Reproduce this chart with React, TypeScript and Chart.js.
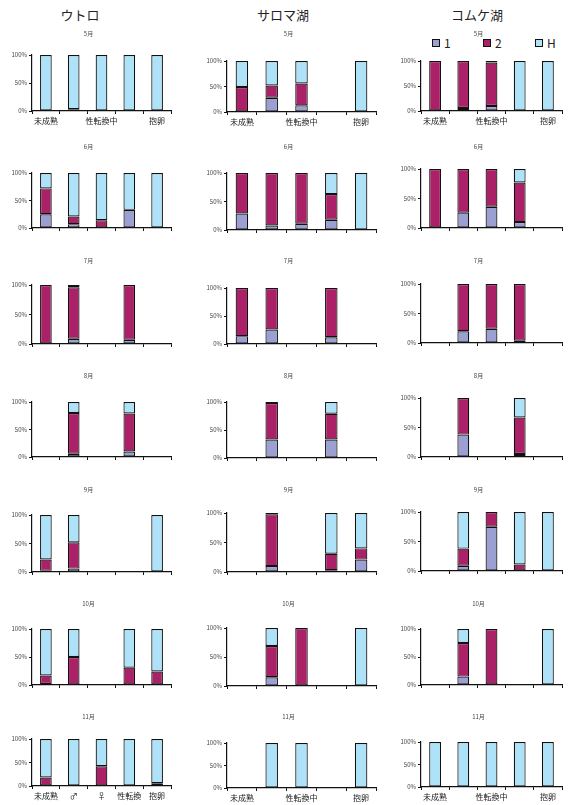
import React, { useEffect, useRef } from 'react';
import { Chart, registerables } from 'chart.js';
Chart.register(...registerables);

const FONT = '"Noto Sans CJK JP", "Noto Sans", sans-serif';

const lakes = ['ウトロ', 'サロマ湖', 'コムケ湖'];
const months = ['5月', '6月', '7月', '8月', '9月', '10月', '11月'];
const seriesNames = ['1', '2', 'H'];
const categoryLabels = ['未成熟', '', '性転換中', '', '抱卵'];
const utoroLastLabels = ['未成熟', '♂', '♀', '性転換', '抱卵'];
const yTickStep = 50;

// ---- data (percent), one inner array per month: [未成熟, ♂, ♀, 性転換中, 抱卵]
const utoro1 = [
  [null, null, null, null, null],
  [25, 7, null, 33, null],
  [null, 9, null, 7, null],
  [null, 6, null, 10, null],
  [2, 6, null, null, null],
  [2, null, null, null, null],
  [null, null, null, null, null],
];
const utoro2 = [
  [1, 3, null, null, null],
  [47, 14, 14, null, null],
  [100, 87, null, 93, null],
  [null, 74, null, 69, null],
  [20, 46, null, null, 1],
  [15, 50, null, 31, 24],
  [18, null, 42, null, 6],
];
const utoroH = [
  [99, 97, 100, 100, 100],
  [28, 79, 86, 67, 100],
  [null, 4, null, null, null],
  [null, 20, null, 21, null],
  [78, 48, null, null, 99],
  [83, 50, null, 69, 76],
  [82, 100, 58, 100, 94],
];

const saroma1 = [
  [null, 28, 13, null, null],
  [29, 8, 11, 18, null],
  [14, 26, null, 12, null],
  [null, 33, null, 33, null],
  [null, 10, null, 3, 21],
  [null, 15, null, null, null],
  [null, null, null, null, null],
];
const saroma2 = [
  [49, 24, 43, null, null],
  [71, 92, 89, 45, null],
  [86, 74, null, 88, null],
  [null, 65, null, 46, null],
  [null, 88, null, 28, 19],
  [null, 54, 100, null, null],
  [null, null, null, null, null],
];
const saromaH = [
  [51, 48, 44, null, 100],
  [null, null, null, 37, 100],
  [null, null, null, null, null],
  [null, 2, null, 21, null],
  [null, 2, null, 69, 60],
  [null, 31, null, null, 100],
  [null, 100, 100, null, 100],
];

const komuke1 = [
  [null, 6, 10, null, null],
  [null, 26, 36, 10, null],
  [null, 20, 24, 4, null],
  [null, 38, null, 5, null],
  [null, 9, 75, 1, 1],
  [null, 15, null, null, null],
  [null, null, null, null, null],
];
const komuke2 = [
  [100, 94, 87, null, null],
  [100, 74, 64, 67, null],
  [null, 80, 76, 96, null],
  [null, 62, null, 62, null],
  [null, 29, 25, 10, null],
  [null, 60, 100, null, null],
  [null, null, null, null, null],
];
const komukeH = [
  [null, null, 3, 100, 100],
  [null, null, null, 23, null],
  [null, null, null, null, null],
  [null, null, null, 33, null],
  [null, 62, null, 89, 99],
  [null, 25, null, null, 100],
  [100, 100, 100, 100, 100],
];

const lakeData = [
  [utoro1, utoro2, utoroH],
  [saroma1, saroma2, saromaH],
  [komuke1, komuke2, komukeH],
];

const COLORS = ['#9c9fd2', '#ab2168', '#aee2f8'];

// ---- layout (page pixels)
const axisX = [32, 227, 421];
const endX = [171, 376, 562];
const plotTop = [
  [55, 173, 285, 402, 515, 629, 739],
  [61, 173, 288, 402, 513, 628, 743],
  [61, 169, 284, 398, 512, 629, 742],
];
const plotBottom = [
  [111, 228, 344, 457, 572, 685, 786],
  [112, 230, 344, 458, 572, 686, 788],
  [111, 228, 343, 457, 571, 685, 787],
];
const titleY = [34, 147, 261, 376, 490, 604, 717];
const headingX = [80, 283, 477];

const Y_AXIS_W = 26;
const RIGHT_PAD = 3;
const TITLE_FONT = 6;

function ChartCell({ col, row }: { col: number; row: number }) {
  const ref = useRef<HTMLCanvasElement | null>(null);
  const hasLabels = row === 0 || row === 6;
  const xh = hasLabels ? 18 : 6;
  const titleLineH = TITLE_FONT * 1.2;
  const top = Math.round(titleY[row] - titleLineH / 2);
  const titlePadBottom = plotTop[col][row] - top - titleLineH;
  const left = axisX[col] - Y_AXIS_W;
  const width = endX[col] - left + RIGHT_PAD;
  const height = plotBottom[col][row] - top + xh;

  useEffect(() => {
    if (!ref.current) return;
    const labels = col === 0 && row === 6 ? utoroLastLabels : categoryLabels;
    const d = lakeData[col];
    const chart = new Chart(ref.current, {
      type: 'bar',
      data: {
        labels,
        datasets: seriesNames.map((n, i) => ({
          label: n,
          data: d[i][row],
          backgroundColor: COLORS[i],
          borderColor: '#111',
          borderWidth: 1.2,
          borderSkipped: false,
          barPercentage: 0.42,
          categoryPercentage: 1,
        })),
      },
      options: {
        animation: false,
        responsive: false,
        maintainAspectRatio: false,
        layout: { padding: { left: 0, right: RIGHT_PAD, top: 0, bottom: 0 } },
        plugins: {
          legend: { display: false },
          tooltip: { enabled: false },
          title: {
            display: true,
            text: months[row],
            color: '#444',
            font: { size: TITLE_FONT, family: FONT, weight: 'normal' },
            padding: { top: 0, bottom: titlePadBottom },
          },
        },
        scales: {
          x: {
            stacked: true,
            grid: { display: true, drawOnChartArea: false, drawTicks: true, tickLength: 3, color: '#111', offset: true },
            border: { display: true, color: '#111', width: 1.2 },
            ticks: {
              display: hasLabels,
              autoSkip: false,
              maxRotation: 0,
              minRotation: 0,
              padding: 2,
              color: '#222',
              font: { size: 8, family: FONT },
            },
            afterFit: (s: any) => { s.height = xh; },
          },
          y: {
            stacked: true,
            min: 0,
            max: 100,
            ticks: {
              stepSize: yTickStep,
              callback: (v: any) => v + '%',
              color: '#444',
              padding: 2,
              font: { size: 6, family: FONT },
            },
            grid: { display: true, drawOnChartArea: false, drawTicks: true, tickLength: 3, color: '#111' },
            border: { display: true, color: '#111', width: 1.2 },
            afterFit: (s: any) => { s.width = Y_AXIS_W; },
          },
        },
      },
    } as any);
    return () => chart.destroy();
  }, []);

  return (
    <canvas
      ref={ref}
      width={width}
      height={height}
      style={{ position: 'absolute', left, top, width, height }}
    />
  );
}

function Legend() {
  const boxX = [432, 483, 535];
  return (
    <>
      {seriesNames.map((n, i) => (
        <div key={n}>
          <div
            style={{
              position: 'absolute', left: boxX[i], top: 39, width: 6, height: 6,
              background: COLORS[i], border: '1px solid #111',
            }}
          />
          <div
            style={{
              position: 'absolute', left: boxX[i] + 12, top: 35, height: 16, lineHeight: '16px',
              fontSize: 12, fontFamily: FONT, color: '#222',
            }}
          >
            {n}
          </div>
        </div>
      ))}
    </>
  );
}

export default function App() {
  const cells = [];
  for (let c = 0; c < 3; c++) {
    for (let r = 0; r < 7; r++) cells.push(<ChartCell key={c + '-' + r} col={c} row={r} />);
  }
  return (
    <div style={{ position: 'absolute', left: 0, top: 0, width: 571, height: 805, background: '#fff', overflow: 'hidden' }}>
      {lakes.map((l, i) => (
        <div
          key={l}
          style={{
            position: 'absolute', left: headingX[i] - 60, width: 120, top: 6, height: 18, lineHeight: '18px',
            textAlign: 'center', fontSize: 13, fontFamily: FONT, color: '#222',
          }}
        >
          {l}
        </div>
      ))}
      <Legend />
      {cells}
    </div>
  );
}
